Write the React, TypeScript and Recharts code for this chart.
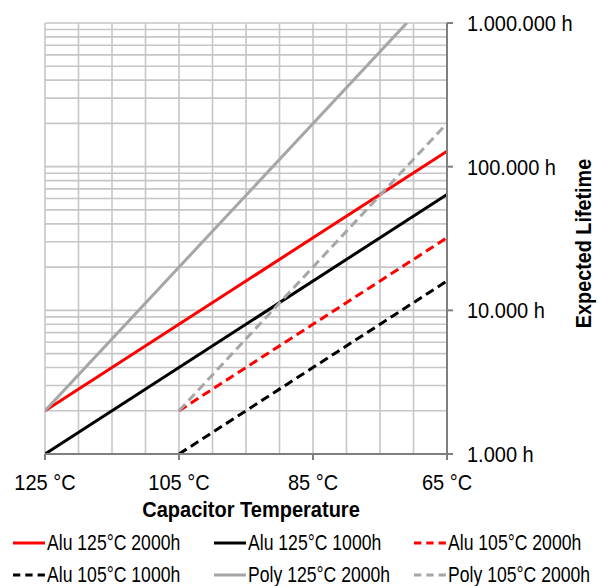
import React from "react";
import { ComposedChart, Line, XAxis, YAxis, CartesianGrid, Legend, Label } from "recharts";

const FONT = "'Liberation Sans', Arial, sans-serif";
const FS = 22;

const xTicks = [125, 105, 85, 65];
const yTicks = [1000, 10000, 100000, 1000000];
const yTickLabels = ["1.000 h", "10.000 h", "100.000 h", "1.000.000 h"];
const gridTemps = [65, 70, 75, 80, 85, 90, 95, 100, 105, 110, 115, 120, 125];
const gridHours = [
  1000, 2000, 3000, 4000, 5000, 6000, 7000, 8000, 9000,
  10000, 20000, 30000, 40000, 50000, 60000, 70000, 80000, 90000,
  100000, 200000, 300000, 400000, 500000, 600000, 700000, 800000, 900000,
  1000000,
];

const alu125_2000 = [
  { temp: 125, hours: 2000 },
  { temp: 65, hours: 128000 },
];
const alu125_1000 = [
  { temp: 125, hours: 1000 },
  { temp: 65, hours: 64000 },
];
const alu105_2000 = [
  { temp: 105, hours: 2000 },
  { temp: 65, hours: 32000 },
];
const alu105_1000 = [
  { temp: 105, hours: 1000 },
  { temp: 65, hours: 16000 },
];
const poly125_2000 = [
  { temp: 125, hours: 2000 },
  { temp: 71, hours: 1000000 },
];
const poly105_2000 = [
  { temp: 105, hours: 2000 },
  { temp: 65, hours: 200000 },
];

const series = [
  { name: "Alu 125°C 2000h", data: alu125_2000, color: "#ff0000", dash: undefined },
  { name: "Alu 125°C 1000h", data: alu125_1000, color: "#000000", dash: undefined },
  { name: "Alu 105°C 2000h", data: alu105_2000, color: "#ff0000", dash: "9 5" },
  { name: "Alu 105°C 1000h", data: alu105_1000, color: "#000000", dash: "9 5" },
  { name: "Poly 125°C 2000h", data: poly125_2000, color: "#a6a6a6", dash: undefined },
  { name: "Poly 105°C 2000h", data: poly105_2000, color: "#a6a6a6", dash: "9 5" },
];

const legendCols = [13, 214, 414];

const renderLegend = () => (
  <div style={{ position: "relative", width: 602, height: 66, fontFamily: FONT, fontSize: FS }}>
    {series.map((s, i) => {
      const col = i % 3;
      const row = Math.floor(i / 3);
      return (
        <div
          key={s.name}
          style={{
            position: "absolute",
            left: legendCols[col],
            top: row * 32,
            height: 24,
            display: "flex",
            alignItems: "center",
            whiteSpace: "nowrap",
            color: "#000",
          }}
        >
          <svg width={34} height={6} style={{ display: "block" }}>
            <line x1={0} y1={3} x2={32} y2={3} stroke={s.color} strokeWidth={3} strokeDasharray={s.dash ? "7.3 5" : undefined} />
          </svg>
          <span
            style={{
              lineHeight: "24px",
              display: "inline-block",
              transform: "scaleX(0.8)",
              transformOrigin: "0 50%",
            }}
          >
            {s.name}
          </span>
        </div>
      );
    })}
  </div>
);

const XTick = (props: any) => {
  const { x, y, payload } = props;
  if (!xTicks.includes(payload.value)) return null;
  return (
    <text
      transform={`translate(${x},${y}) scale(0.91,1)`}
      textAnchor="middle"
      dy="0.72em"
      fill="#000"
      fontSize={FS}
      fontFamily={FONT}
    >
      {`${payload.value} °C`}
    </text>
  );
};

const YTick = (props: any) => {
  const { x, y, payload } = props;
  return (
    <text
      transform={`translate(${x},${y}) scale(0.91,1)`}
      textAnchor="start"
      dy="0.36em"
      fill="#000"
      fontSize={FS}
      fontFamily={FONT}
    >
      {yTickLabels[yTicks.indexOf(payload.value)]}
    </text>
  );
};

const XTitle = (props: any) => {
  const vb = props.viewBox || {};
  const cx = vb.x + vb.width / 2 + 5;
  return (
    <text
      transform={`translate(${cx},${517}) scale(0.91,1)`}
      textAnchor="middle"
      fill="#000"
      fontSize={FS}
      fontWeight="bold"
      fontFamily={FONT}
    >
      Capacitor Temperature
    </text>
  );
};

const YTitle = (props: any) => {
  const vb = props.viewBox || {};
  const cy = vb.y + vb.height / 2 + 5;
  return (
    <text
      transform={`translate(${591},${cy}) rotate(-90) scale(0.9,1)`}
      textAnchor="middle"
      fill="#000"
      fontSize={FS}
      fontWeight="bold"
      fontFamily={FONT}
    >
      Expected Lifetime
    </text>
  );
};

export default function App() {
  return (
    <div style={{ position: "absolute", left: 0, top: 0, background: "#fff" }}>
      <ComposedChart width={602} height={586} margin={{ top: 23, right: 25, bottom: 72, left: 45 }}>
        <CartesianGrid
          stroke="#c6c6c6"
          strokeWidth={1.6}
          verticalValues={gridTemps}
          horizontalValues={gridHours}
        />
        <XAxis
          dataKey="temp"
          type="number"
          domain={[65, 125]}
          reversed
          ticks={xTicks}
          interval={0}
          tickSize={6}
          tickMargin={14}
          height={60}
          axisLine={{ stroke: "#7f7f7f", strokeWidth: 2 }}
          tickLine={{ stroke: "#7f7f7f", strokeWidth: 2 }}
          tick={<XTick />}
          allowDataOverflow
        >
          <Label content={<XTitle />} />
        </XAxis>
        <YAxis
          dataKey="hours"
          type="number"
          scale="log"
          orientation="right"
          domain={[1000, 1000000]}
          ticks={yTicks}
          interval={0}
          tickSize={6}
          tickMargin={14}
          width={130}
          axisLine={{ stroke: "#7f7f7f", strokeWidth: 2 }}
          tickLine={{ stroke: "#7f7f7f", strokeWidth: 2 }}
          tick={<YTick />}
          allowDataOverflow
        >
          <Label content={<YTitle />} />
        </YAxis>
        <Legend
          layout="horizontal"
          verticalAlign="middle"
          align="center"
          content={renderLegend}
          wrapperStyle={{ position: "absolute", left: 0, top: 531, width: 602, height: 66 }}
        />
        {series.map((s) => (
          <Line
            key={s.name}
            data={s.data}
            dataKey="hours"
            name={s.name}
            type="linear"
            stroke={s.color}
            strokeWidth={3}
            strokeDasharray={s.dash}
            dot={false}
            activeDot={false}
            isAnimationActive={false}
          />
        ))}
      </ComposedChart>
    </div>
  );
}
